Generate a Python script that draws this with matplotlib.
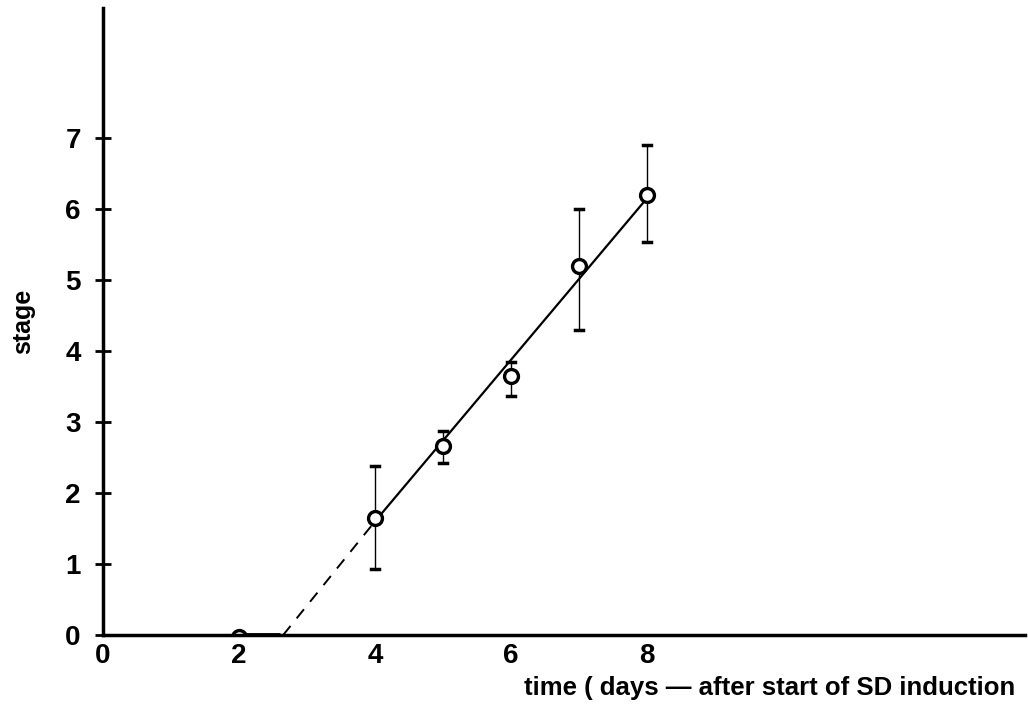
import matplotlib.pyplot as plt

# days after start of SD induction
days = [2, 4, 5, 6, 7, 8]
stage = [-0.03, 1.65, 2.66, 3.65, 5.2, 6.2]
err_hi = [None, 2.38, 2.87, 3.85, 6.0, 6.9]
err_lo = [None, 0.93, 2.42, 3.37, 4.3, 5.53]

# fitted line: solid part, dashed extrapolation, flat part on the axis
fit_x = [4, 8]
fit_y = [1.6, 6.15]
dash_x = [2.65, 4]
dash_y = [0, 1.6]
flat_x = [2.05, 2.6]
flat_y = [0, 0]

xticks = [0, 2, 4, 6, 8]
yticks = [0, 1, 2, 3, 4, 5, 6, 7]

plt.rcParams['font.family'] = ['Liberation Sans', 'DejaVu Sans']
fig = plt.figure(figsize=(10.28, 7.2), dpi=100)
ax = fig.add_axes([103 / 1028, 85 / 720, 922 / 1028, 627 / 720])

ax.plot(fit_x, fit_y, color='black', lw=1.6)
ax.plot(dash_x, dash_y, color='black', lw=1.4, ls=(0, (6, 5)))
ax.plot(flat_x, flat_y, color='black', lw=3.5, solid_capstyle='butt')

for x, y, hi, lo in zip(days, stage, err_hi, err_lo):
    if hi is None:
        continue
    ax.plot([x, x], [lo, hi], color='black', lw=1.0)
    ax.plot([x - 0.06, x + 0.06], [hi, hi], color='black', lw=2.5)
    ax.plot([x - 0.06, x + 0.06], [lo, lo], color='black', lw=2.5)

ax.plot(days, stage, ls='none', marker='o', markersize=10, markerfacecolor='white',
        markeredgecolor='black', markeredgewidth=2.4)

ax.set_xlim(0, 13.56)
ax.set_ylim(0, 8.83)
ax.set_xticks(xticks)
ax.set_yticks(yticks)
ax.spines['top'].set_visible(False)
ax.spines['right'].set_visible(False)
ax.spines['left'].set_linewidth(2.5)
ax.spines['bottom'].set_linewidth(2.5)
ax.tick_params(axis='y', direction='inout', length=12, width=2, labelsize=20, pad=10)
ax.tick_params(axis='x', length=0, labelsize=20, pad=6)
for lab in ax.get_xticklabels() + ax.get_yticklabels():
    lab.set_fontweight('bold')

ax.set_ylabel('stage', fontsize=18, fontweight='bold', labelpad=22)
fig.text(1015 / 1028, 1 - 688 / 720, 'time ( days \u2014 after start of SD induction',
         fontsize=18.5, fontweight='bold', ha='right', va='center')

plt.savefig('out.png', dpi=100)
